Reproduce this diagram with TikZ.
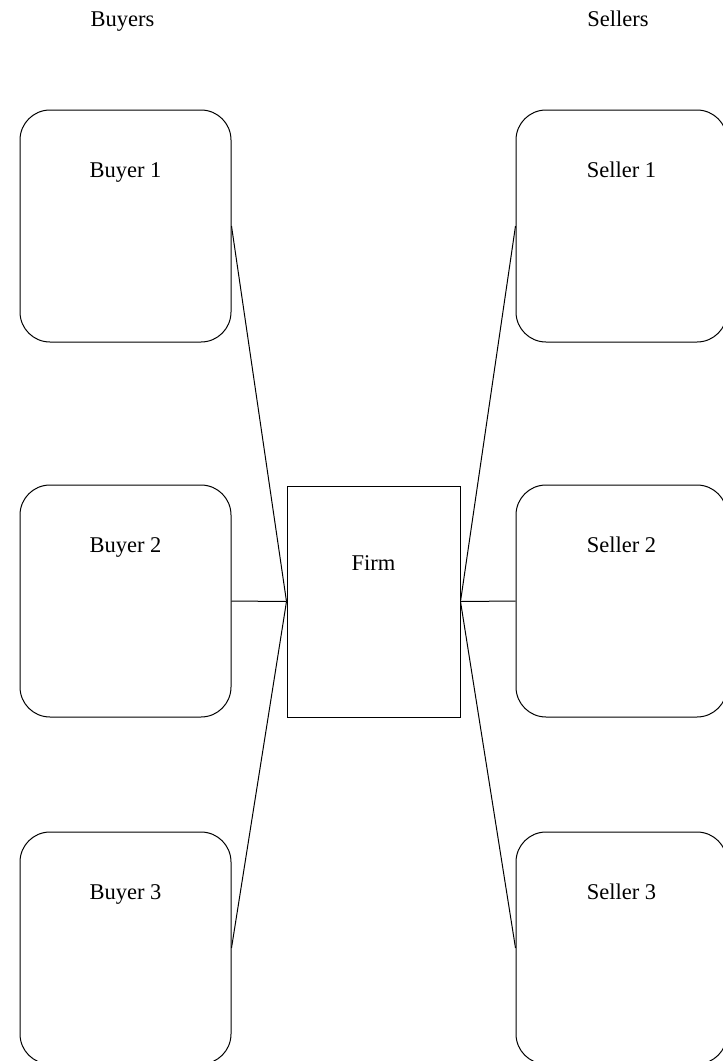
\documentclass[tikz,border=0pt]{standalone}
\usepackage{fontspec}
\setmainfont{Liberation Serif}
\begin{document}
\begin{tikzpicture}[x=1pt,y=-1pt,
  party/.style={draw, rounded corners=30pt, minimum width=211pt, minimum height=232pt, inner sep=0pt, line width=1pt},
  firmbox/.style={draw, minimum width=173pt, minimum height=231pt, inner sep=0pt, line width=1pt},
  lbl/.style={anchor=base, inner sep=0pt, font=\fontsize{22.5}{27}\selectfont},
  link/.style={line width=1pt}]
\useasboundingbox (0,0) rectangle (723,1061);
% headings
\node[lbl] (hb) at (122.5,26) {Buyers};
\node[lbl] (hs) at (618,26) {Sellers};
% buyers
\node[party] (b1) at (125.5,226) {};
\node[party] (b2) at (125.5,601) {};
\node[party] (b3) at (125.5,948) {};
% sellers
\node[party] (s1) at (621.5,226) {};
\node[party] (s2) at (621.5,601) {};
\node[party] (s3) at (621.5,948) {};
% firm
\node[firmbox] (firm) at (373.5,601.5) {};
% labels
\node[lbl] (b1t) at ([yshift=-68pt]b1.north) {Buyer 1};
\node[lbl] (b2t) at ([yshift=-68pt]b2.north) {Buyer 2};
\node[lbl] (b3t) at ([yshift=-68pt]b3.north) {Buyer 3};
\node[lbl] (s1t) at ([yshift=-68pt]s1.north) {Seller 1};
\node[lbl] (s2t) at ([yshift=-68pt]s2.north) {Seller 2};
\node[lbl] (s3t) at ([yshift=-68pt]s3.north) {Seller 3};
\node[lbl] (ft) at ([yshift=-85pt]firm.north) {Firm};
% connectors
\draw[link] (b1.east) -- (firm.west);
\draw[link] (b2.east) -- (firm.west);
\draw[link] (b3.east) -- (firm.west);
\draw[link] (s1.west) -- (firm.east);
\draw[link] (s2.west) -- (firm.east);
\draw[link] (s3.west) -- (firm.east);
\end{tikzpicture}
\end{document}
